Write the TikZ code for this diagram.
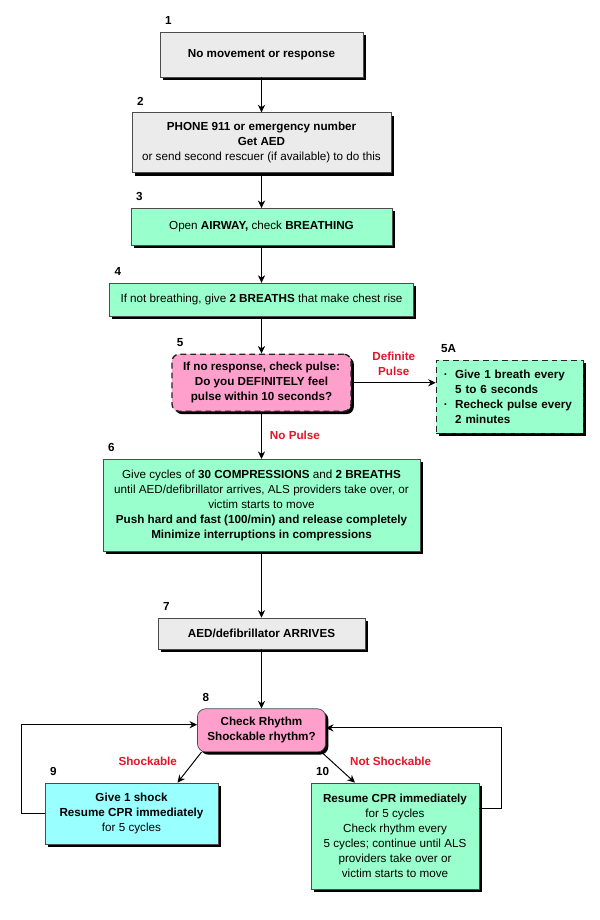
\documentclass[tikz,border=0pt]{standalone}
\usepackage{fontspec}
\setmainfont{Liberation Sans}
\usetikzlibrary{shapes.geometric, arrows, arrows.meta, positioning, calc, shadows}

\definecolor{boxgray}{RGB}{235,235,235}
\definecolor{boxgreen}{RGB}{153,255,204}
\definecolor{boxpink}{RGB}{255,160,204}
\definecolor{boxcyan}{RGB}{153,255,255}
\definecolor{lblred}{RGB}{230,20,40}

\begin{document}
\begin{tikzpicture}[x=0.025cm, y=-0.025cm, node distance=0.875cm]
        \tikzstyle{base} = [rectangle, text centered, align=center, draw=black!70, line width=0.5pt, inner sep=2pt, font=\fontsize{8.3}{10.6}\selectfont, general shadow={fill=black, shadow xshift=0.07cm, shadow yshift=-0.07cm}]
        \tikzstyle{graybox} = [base, fill=boxgray]
        \tikzstyle{greenbox} = [base, fill=boxgreen]
        \tikzstyle{cyanbox} = [base, fill=boxcyan]
        \tikzstyle{pinkbox} = [base, fill=boxpink, rounded corners=0.18cm]
        \tikzstyle{dashbox} = [line width=1pt, draw=black!85, dash pattern=on 4.2pt off 2.8pt]
        \tikzstyle{numlbl} = [inner sep=0pt, font=\fontsize{8.3}{10}\selectfont\bfseries]
        \tikzstyle{lbl} = [inner sep=0pt, align=center, text=lblred, font=\fontsize{8.3}{10.6}\selectfont\bfseries]
        \tikzstyle{arrow} = [line width=0.7pt, ->, >={Stealth[length=1.9mm, width=1.8mm]}]

        \useasboundingbox (0,0) rectangle (599,920);

        % main column
        \node (b1) [graybox, minimum width=5.075cm, minimum height=1.125cm] at (261.5,54.5) {\textbf{No movement or response}};
        \node (b2) [graybox, minimum width=6.475cm, minimum height=1.5cm, below=of b1] {\textbf{PHONE 911 or emergency number}\\\textbf{Get AED}\\or send second rescuer (if available) to do this};
        \node (b3) [greenbox, minimum width=6.525cm, minimum height=0.925cm, below=of b2] {Open \textbf{AIRWAY,} check \textbf{BREATHING}};
        \node (b4) [greenbox, minimum width=7.6cm, minimum height=0.825cm, below=0.925cm of b3] {If not breathing, give \textbf{2 BREATHS} that make chest rise};
        \node (q5) [pinkbox, dashbox, minimum width=4.475cm, minimum height=1.425cm, below=0.925cm of b4] {\textbf{If no response, check pulse:}\\\textbf{Do you DEFINITELY feel}\\\textbf{pulse within 10 seconds?}};
        \node (a5) [greenbox, dashbox, text width=3.3cm, align=left, minimum width=3.675cm, minimum height=1.825cm, right=2.1cm of q5, yshift=-0.35cm] {\bfseries\makebox[0.28cm][l]{\textperiodcentered}Give 1 breath every\\\hspace*{0.28cm}5 to 6 seconds\\\makebox[0.28cm][l]{\textperiodcentered}Recheck pulse every\\\hspace*{0.28cm}2 minutes};
        \node (b6) [greenbox, minimum width=7.925cm, minimum height=2.3cm, below=1.175cm of q5] {Give cycles of \textbf{30 COMPRESSIONS} and \textbf{2 BREATHS}\\until AED/defibrillator arrives, ALS providers take over, or\\victim starts to move\\\textbf{Push hard and fast (100/min) and release completely}\\\textbf{Minimize interruptions in compressions}};
        \node (b7) [graybox, minimum width=5.175cm, minimum height=0.775cm, below=1.65cm of b6] {\textbf{AED/defibrillator ARRIVES}};
        \node (r8) [pinkbox, rounded corners=0.2cm, minimum width=3.2cm, minimum height=1.075cm, below=1.475cm of b7] {\textbf{Check Rhythm}\\\textbf{Shockable rhythm?}};
        \node (s9) [cyanbox, minimum width=4.325cm, minimum height=1.525cm] at (131.5,813.5) {\textbf{Give 1 shock}\\\textbf{Resume CPR immediately}\\for 5 cycles};
        \node (c10) [greenbox, minimum width=4.2cm, minimum height=2.65cm] at (395,836) {\textbf{Resume CPR immediately}\\for 5 cycles\\Check rhythm every\\5 cycles; continue until ALS\\providers take over or\\victim starts to move};

        % step numbers
        \node (n1) [numlbl, above right=0.17cm and 0.13cm of b1.north west] {1};
        \node (n2) [numlbl, above right=0.17cm and 0.13cm of b2.north west] {2};
        \node (n3) [numlbl, above right=0.17cm and 0.13cm of b3.north west] {3};
        \node (n4) [numlbl, above right=0.17cm and 0.13cm of b4.north west] {4};
        \node (n5) [numlbl, above right=0.17cm and 0.13cm of q5.north west] {5};
        \node (n5a) [numlbl, above right=0.17cm and 0.13cm of a5.north west] {5A};
        \node (n6) [numlbl, above right=0.17cm and 0.13cm of b6.north west] {6};
        \node (n7) [numlbl, above right=0.17cm and 0.13cm of b7.north west] {7};
        \node (n8) [numlbl, above right=0.17cm and 0.13cm of r8.north west] {8};
        \node (n9) [numlbl, above right=0.17cm and 0.13cm of s9.north west] {9};
        \node (n10) [numlbl, above right=0.17cm and 0.13cm of c10.north west] {10};

        \draw [arrow] (b1) -- (b2);
        \draw [arrow] (b2) -- (b3);
        \draw [arrow] (b3) -- (b4);
        \draw [arrow] (b4) -- (q5);
        \draw [arrow] (q5.east) -- node[lbl, above=0.17cm] {Definite\\Pulse} (q5.east -| a5.west);
        \draw [arrow] (q5) -- node[lbl, right=0.2cm] {No Pulse} (b6);
        \draw [arrow] (b6) -- (b7);
        \draw [arrow] (b7) -- (r8);
        \draw [arrow] (r8.-160) -- node[lbl, pos=0.3, left=0.42cm] {Shockable} ([xshift=1.15cm]s9.north);
        \draw [arrow] (r8.-20) -- node[lbl, pos=0.3, right=0.45cm] {Not Shockable} ([xshift=-1cm]c10.north);
        \draw [arrow] (s9.west) -- ++(-0.575cm,0) |- ([yshift=0.14cm]r8.west);
        \draw [arrow] ([yshift=0.7cm]c10.east) -- ++(0.55cm,0) |- ([yshift=0.06cm]r8.east);
    \end{tikzpicture}
\end{document}
